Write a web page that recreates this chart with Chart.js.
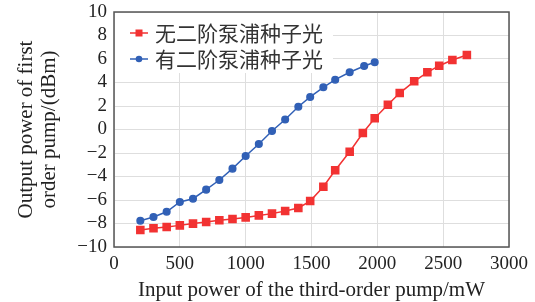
<!DOCTYPE html>
<html>
<head>
<meta charset="utf-8">
<script src="https://cdn.jsdelivr.net/npm/chart.js@4/dist/chart.umd.min.js"></script>
<style>
  html, body { margin: 0; padding: 0; background: #fff; }
</style>
</head>
<body>
<canvas id="chart" width="535" height="302"></canvas>
<script>
// values
var seriesNames = ['无二阶泵浦种子光', '有二阶泵浦种子光'];
var redX = [200, 300, 400, 500, 600, 700, 800, 900, 1000, 1100, 1200, 1300, 1400, 1490, 1590, 1680, 1790, 1890, 1980, 2080, 2170, 2280, 2380, 2470, 2570, 2680];
var redY = [-8.55, -8.41, -8.30, -8.16, -8.01, -7.87, -7.73, -7.62, -7.48, -7.31, -7.16, -6.94, -6.68, -6.09, -4.87, -3.47, -1.89, -0.30, 0.95, 2.11, 3.10, 4.10, 4.87, 5.43, 5.91, 6.34];
var blueX = [200, 300, 400, 500, 600, 700, 800, 900, 1000, 1100, 1200, 1300, 1400, 1490, 1590, 1680, 1790, 1900, 1980];
var blueY = [-7.76, -7.45, -7.00, -6.17, -5.89, -5.12, -4.30, -3.33, -2.26, -1.23, -0.13, 0.85, 1.94, 2.77, 3.59, 4.24, 4.87, 5.40, 5.72];
var xTitle = 'Input power of the third-order pump/mW';
var yTitle = ['Output power of first', 'order pump/(dBm)'];

var RED = '#f23232';
var BLUE = '#3160b6';

function pts(xs, ys) {
  var out = [];
  for (var i in xs) out.push({x: xs[i], y: ys[i]});
  return out;
}

// legend box in the top left corner of the plot
var legendBox = {
  id: 'legendBox',
  afterDatasetsDraw: function(chart) {
    var ctx = chart.ctx;
    var a = chart.chartArea;
    ctx.save();
    ctx.fillStyle = '#fff';
    ctx.fillRect(a.left + 1, a.top + 1, 218, 60);
    var rows = [
      {c: RED, y: a.top + 21, style: 'rect'},
      {c: BLUE, y: a.top + 47, style: 'circle'}
    ];
    rows.forEach(function(r, i) {
      ctx.strokeStyle = r.c;
      ctx.lineWidth = 1.5;
      ctx.beginPath();
      ctx.moveTo(a.left + 16, r.y);
      ctx.lineTo(a.left + 34, r.y);
      ctx.stroke();
      ctx.fillStyle = r.c;
      if (r.style === 'rect') {
        ctx.fillRect(a.left + 25 - 3.5, r.y - 3.5, 7, 7);
      } else {
        ctx.beginPath();
        ctx.arc(a.left + 25, r.y, 3.3, 0, Math.PI * 2);
        ctx.fill();
      }
      ctx.fillStyle = '#333';
      ctx.font = '21px "Noto Sans CJK SC"';
      ctx.textBaseline = 'middle';
      ctx.fillText(seriesNames[i], a.left + 41, r.y);
    });
    ctx.restore();
  },
  afterDraw: function(chart) {
    var ctx = chart.ctx;
    var a = chart.chartArea;
    ctx.save();
    ctx.strokeStyle = '#555';
    ctx.lineWidth = 1.5;
    ctx.strokeRect(a.left, a.top, a.right - a.left, a.bottom - a.top);
    ctx.restore();
  }
};

var tickFont = {family: '"Liberation Serif", serif', size: 19};
var titleFont = {family: '"Liberation Serif", serif', size: 21, lineHeight: 1.1};

var config = {
  type: 'line',
  data: {
    datasets: [{
      label: seriesNames[0],
      data: pts(redX, redY),
      borderColor: RED,
      backgroundColor: RED,
      borderWidth: 1.5,
      pointStyle: 'rect',
      pointRadius: 5,
      pointHoverRadius: 5,
      tension: 0
    }, {
      label: seriesNames[1],
      data: pts(blueX, blueY),
      borderColor: BLUE,
      backgroundColor: BLUE,
      borderWidth: 1.5,
      pointStyle: 'circle',
      pointRadius: 3.3,
      pointHoverRadius: 3.3,
      tension: 0
    }]
  },
  options: {
    responsive: false,
    animation: false,
    devicePixelRatio: 1,
    layout: {padding: {top: 12, right: 26, left: 0, bottom: 0}},
    plugins: {legend: {display: false}, tooltip: {enabled: false}},
    scales: {
      x: {
        type: 'linear',
        min: 0, max: 3000,
        afterFit: function(s) { s.height = 55; s.paddingLeft = 0; s.paddingRight = 0; },
        grid: {color: '#dedede', lineWidth: 1, drawTicks: false},
        border: {display: false},
        ticks: {
          stepSize: 500, color: '#222', font: tickFont, padding: 6, maxRotation: 0, autoSkip: false,
          callback: function(v) { return String(v); }
        },
        title: {display: true, text: xTitle, color: '#222', font: titleFont, padding: {top: 0, bottom: 0}}
      },
      y: {
        type: 'linear',
        min: -10, max: 10,
        afterFit: function(s) { s.width = 114; s.paddingTop = 0; s.paddingBottom = 0; },
        grid: {color: '#dedede', lineWidth: 1, drawTicks: false},
        border: {display: false},
        ticks: {
          stepSize: 2, color: '#222', font: tickFont, padding: 7, autoSkip: false,
          callback: function(v) { return String(v).replace('-', '\u2212'); }
        },
        title: {display: true, text: yTitle, color: '#222', font: titleFont, padding: {top: 15, bottom: 0}}
      }
    }
  },
  plugins: [legendBox]
};

var myChart = new Chart(document.getElementById('chart'), config);
</script>
</body>
</html>
